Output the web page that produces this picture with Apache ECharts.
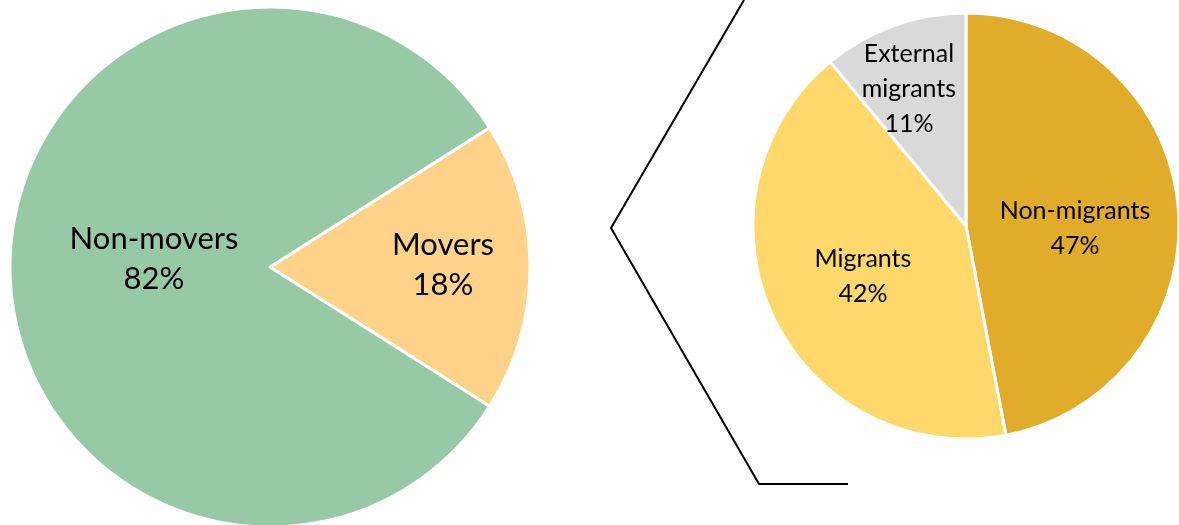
<!DOCTYPE html>
<html>
<head>
<meta charset="utf-8">
<script src="https://cdn.jsdelivr.net/npm/echarts@6/dist/echarts.min.js"></script>
<style>
  html, body { margin: 0; padding: 0; background: #fff; }
  #chartcontainer { width: 1179px; height: 525px; }
</style>
</head>
<body>
<div id="chartcontainer"></div>
<script>
  // left pie: movers vs non-movers
  const moveNames = ['Movers', 'Non-movers']
  const moveValues = [18, 82]
  const moveColors = ['#FFD28A', '#98C9A7']

  // right pie: breakdown of movers
  const migNames = ['Non-migrants', 'Migrants', 'External\nmigrants']
  const migValues = [47, 42, 11]
  const migColors = ['#E0AC2A', '#FED86A', '#D9D9D9']

  // label nudges (px) so labels sit where the original had them
  const moveNudge = [[40, -2], [17, -8]]
  const migNudge = [[0, 13], [-4, 4], [-20, -34]]

  const chart = echarts.init(document.getElementById('chartcontainer'))

  const toData = (names, values, colors) => names.map((n, i) => ({
    name: n,
    value: values[i],
    itemStyle: { color: colors[i] }
  }))

  chart.setOption({
    animation: false,
    graphic: [
      {
        type: 'polyline',
        shape: { points: [[744, 0], [611, 228], [759, 484], [848, 484]] },
        style: { stroke: '#000', lineWidth: 2, fill: null }
      }
    ],
    series: [
      {
        type: 'pie',
        center: [270, 267],
        radius: 260,
        startAngle: 32.4,
        clockwise: true,
        silent: true,
        itemStyle: { borderColor: '#fff', borderWidth: 3 },
        label: {
          position: 'inside',
          formatter: '{b}\n{c}%',
          fontFamily: 'Lato',
          fontSize: 31,
          lineHeight: 40,
          color: '#000'
        },
        labelLayout: p => ({ dx: moveNudge[p.dataIndex][0], dy: moveNudge[p.dataIndex][1] }),
        data: toData(moveNames, moveValues, moveColors)
      },
      {
        type: 'pie',
        center: [966, 226],
        radius: 213,
        startAngle: 90,
        clockwise: true,
        silent: true,
        itemStyle: { borderColor: '#fff', borderWidth: 3 },
        label: {
          position: 'inside',
          formatter: '{b}\n{c}%',
          fontFamily: 'Lato',
          fontSize: 25,
          lineHeight: 35,
          color: '#000'
        },
        labelLayout: p => ({ dx: migNudge[p.dataIndex][0], dy: migNudge[p.dataIndex][1] }),
        data: toData(migNames, migValues, migColors)
      }
    ]
  })
</script>
</body>
</html>
